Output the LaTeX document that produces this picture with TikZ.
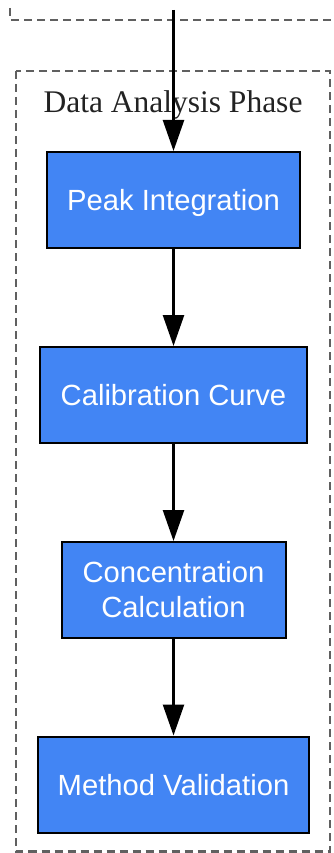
\documentclass[tikz,border=0pt]{standalone}
\usepackage{fontspec}
\setmainfont{Liberation Serif}
\newfontfamily\boxfont{Liberation Sans}
\usetikzlibrary{arrows.meta}
\definecolor{boxblue}{HTML}{4285F4}
\definecolor{clustergray}{HTML}{606060}
\definecolor{titlegray}{HTML}{222222}
\tikzset{
  stepbox/.style={draw=black, line width=2pt, fill=boxblue, text=white,
    font=\boxfont\fontsize{29.2}{35}\selectfont, align=center, inner sep=0pt,
    minimum height=96pt},
  oneline/.style={text height=21.5pt, text depth=0pt},
  cluster/.style={draw=clustergray, line width=2.2pt, dash pattern=on 8pt off 5pt},
  flow/.style={draw=black, line width=2.5pt, -{Triangle[length=31pt,width=21pt]}},
}
\begin{document}
\begin{tikzpicture}[x=1pt,y=-1pt]
\useasboundingbox (0,0) rectangle (334,853);
% outer (upper) cluster fragment
\draw[cluster] (10,8) -- (10,20) -- (340,20);
% inner cluster
\draw[cluster] (16,71) rectangle (330,851.5);
\node[font=\fontsize{31.5}{38}\selectfont, text=titlegray, anchor=base] (title) at (173,113) {Data Analysis Phase};
\node[stepbox, oneline, minimum width=253pt] (n1) at (173.5,200) {Peak Integration};
\node[stepbox, oneline, minimum width=267pt] (n2) at (173.5,395) {Calibration Curve};
\node[stepbox, minimum width=224pt] (n3) at (173.5,590) {Concentration\\Calculation};
\node[stepbox, oneline, minimum width=271pt] (n4) at (173.5,784.5) {Method Validation};
\coordinate (src) at (173.5,10);
\draw[flow] (src) -- (n1.north);
\draw[flow] (n1) -- (n2);
\draw[flow] (n2) -- (n3);
\draw[flow] (n3) -- (n4);
\end{tikzpicture}
\end{document}
